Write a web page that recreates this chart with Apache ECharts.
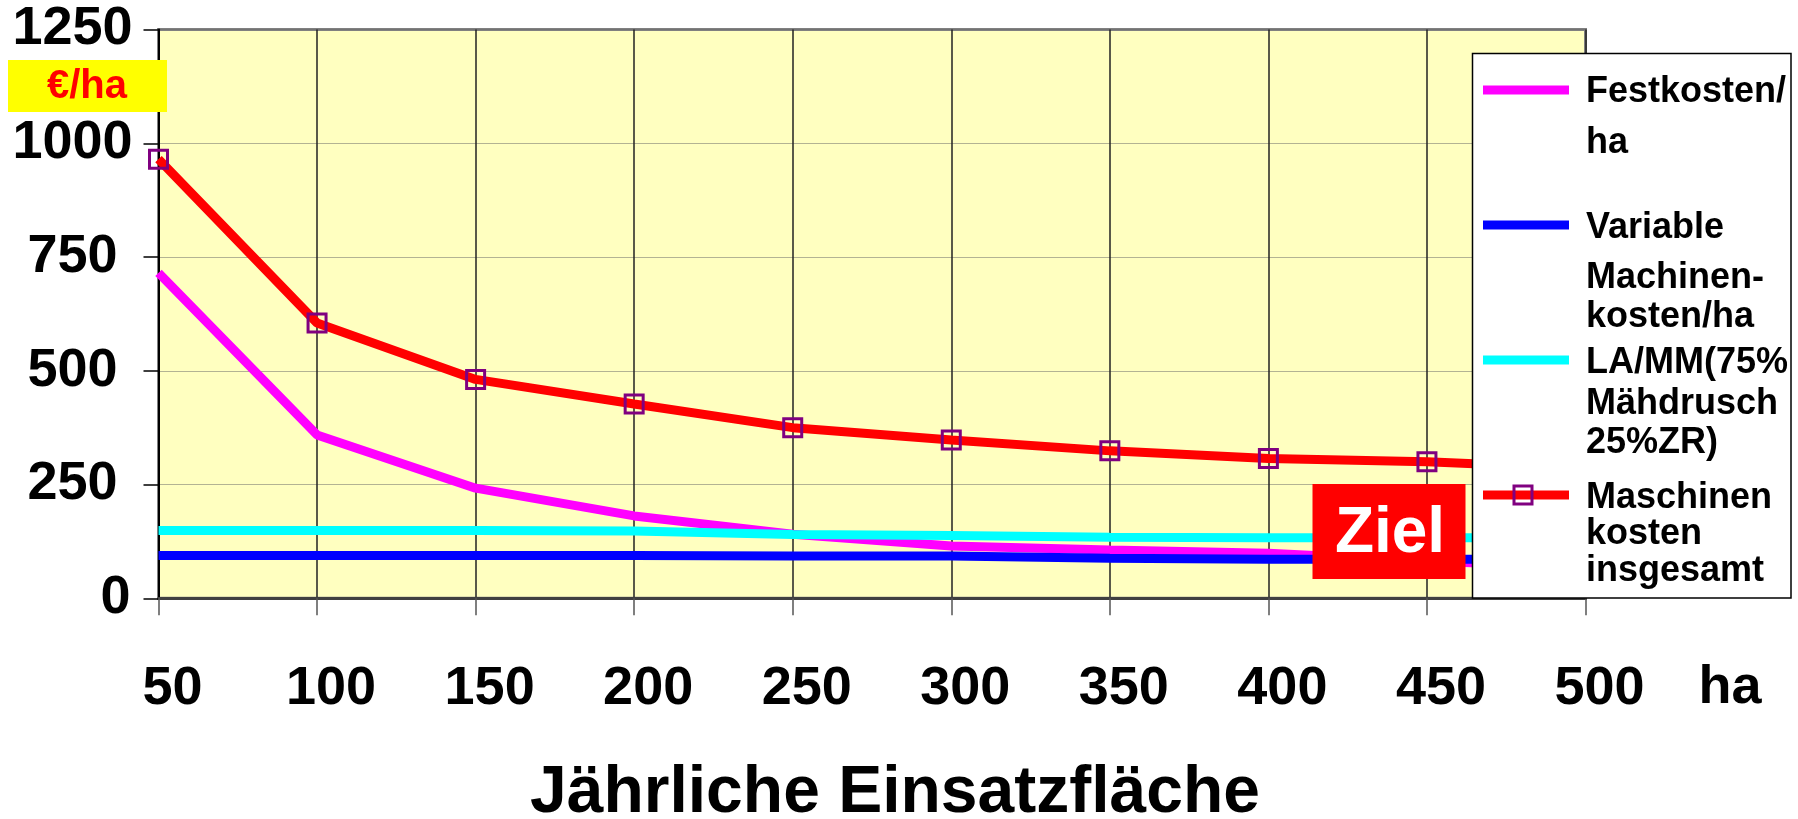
<!DOCTYPE html>
<html>
<head>
<meta charset="utf-8">
<title>Maschinenkosten</title>
<script src="https://cdn.jsdelivr.net/npm/echarts@6/dist/echarts.min.js"></script>
<style>
  html, body { margin: 0; padding: 0; background: #fff; }
  #chart { width: 1798px; height: 819px; }
</style>
</head>
<body>
<div id="chart"></div>
<script>
// Jährliche Einsatzfläche (ha)
const areas = ['50', '100', '150', '200', '250', '300', '350', '400', '450', '500']
// €/ha
const festkosten = [715, 359, 242, 181, 141, 115, 106, 99, 82, 68]
const variableKosten = [94, 94, 94, 94, 93, 93, 88, 86, 86, 86]
const laMm = [149, 149, 149, 148, 140, 138, 134, 133, 133, 133]
const gesamt = [965, 605, 481, 427, 375, 348, 324, 307, 300, 285]

const seriesNames = [
  'Festkosten/ha',
  'Variable Machinen-kosten/ha',
  'LA/MM(75% Mähdrusch 25%ZR)',
  'Maschinen kosten insgesamt'
]
const legendLines = [
  ['Festkosten/', 'ha'],
  ['Variable', 'Machinen-', 'kosten/ha'],
  ['LA/MM(75%', 'Mähdrusch', '25%ZR)'],
  ['Maschinen', 'kosten', 'insgesamt']
]
const colors = ['#ff00ff', '#0000ff', '#00ffff', '#ff0000']

const FONT = '"Liberation Sans", Arial, sans-serif'
const TOP = 100 // z for overlay boxes

const chart = echarts.init(document.getElementById('chart'))

function lineSeries(name, data, color, withMarker) {
  return {
    name: name,
    type: 'line',
    data: data,
    symbol: withMarker ? 'rect' : 'none',
    symbolSize: 18,
    showAllSymbol: true,
    lineStyle: { color: color, width: 9 },
    itemStyle: withMarker
      ? { color: 'rgba(0,0,0,0)', borderColor: '#800080', borderWidth: 3 }
      : { color: color },
    emphasis: { disabled: true },
    clip: false
  }
}

// legend box, drawn by hand (icons sit on first text line)
const iconY = [90, 225, 360, 495]
const textY = [[92, 143], [228, 278, 317], [363, 404, 443], [498, 534, 571]]
const legendChildren = [{
  type: 'rect',
  z: TOP,
  shape: { x: 1472.5, y: 53.5, width: 318.5, height: 544.5 },
  style: { fill: '#fff', stroke: '#000', lineWidth: 1.5 }
}]
legendLines.forEach(function(lines, i) {
  legendChildren.push({
    type: 'line',
    z: TOP + 1,
    shape: { x1: 1483, y1: iconY[i], x2: 1569, y2: iconY[i] },
    style: { stroke: colors[i], lineWidth: 9 }
  })
  lines.forEach(function(t, j) {
    legendChildren.push({
      type: 'text',
      z: TOP + 1,
      x: 1586,
      y: textY[i][j],
      style: {
        text: t,
        font: 'bold 36px ' + FONT,
        fill: '#000',
        verticalAlign: 'middle',
        align: 'left'
      }
    })
  })
})
legendChildren.push({
  type: 'rect',
  z: TOP + 2,
  shape: { x: 1514, y: 486, width: 18, height: 18 },
  style: { fill: 'rgba(0,0,0,0)', stroke: '#800080', lineWidth: 3 }
})

chart.setOption({
  animation: false,
  backgroundColor: '#fff',
  grid: {
    left: 158.5,
    right: 212.5,
    top: 29.5,
    bottom: 220.7,
    containLabel: false,
    outerBoundsMode: 'none',
    show: true,
    backgroundColor: '#ffffc0',
    borderColor: '#808080',
    borderWidth: 3
  },
  xAxis: {
    type: 'category',
    data: areas,
    boundaryGap: false,
    axisLine: { lineStyle: { color: '#404040', width: 3 } },
    axisTick: { show: true, length: 17, lineStyle: { color: '#555', width: 1.5 } },
    axisLabel: {
      color: '#000',
      fontSize: 54,
      fontWeight: 'bold',
      fontFamily: FONT,
      margin: 64,
      padding: [0, 0, 0, 28]
    },
    splitLine: { show: true, lineStyle: { color: '#222', width: 1.5 } },
    name: 'Jährliche Einsatzfläche',
    nameLocation: 'middle',
    nameGap: 162,
    nameTextStyle: {
      color: '#000',
      fontSize: 66,
      fontWeight: 'bold',
      fontFamily: FONT,
      padding: [0, 0, 0, 46]
    }
  },
  yAxis: {
    type: 'value',
    min: 0,
    max: 1250,
    interval: 250,
    axisLine: { show: true, lineStyle: { color: '#000', width: 2 } },
    axisTick: { show: true, length: 15, lineStyle: { color: '#000', width: 1.5 } },
    axisLabel: {
      color: '#000',
      fontSize: 54,
      fontWeight: 'bold',
      fontFamily: FONT,
      align: 'center',
      margin: 86,
      formatter: function(v) {
        return v === 0 ? '{z|0}' : String(v)
      },
      rich: {
        z: {
          color: '#000',
          fontSize: 54,
          fontWeight: 'bold',
          fontFamily: FONT,
          padding: [0, 0, 0, 86]
        }
      }
    },
    splitLine: { show: true, lineStyle: { color: '#666', type: 'dotted', width: 1 } }
  },
  series: [
    lineSeries(seriesNames[0], festkosten, colors[0], false),
    lineSeries(seriesNames[1], variableKosten, colors[1], false),
    lineSeries(seriesNames[2], laMm, colors[2], false),
    lineSeries(seriesNames[3], gesamt, colors[3], true)
  ],
  graphic: [
    {
      type: 'rect',
      z: TOP,
      shape: { x: 8, y: 60, width: 159, height: 52 },
      style: { fill: '#ffff00' }
    },
    {
      type: 'text',
      z: TOP + 1,
      x: 87,
      y: 87,
      style: {
        text: '€/ha',
        font: 'bold 40px ' + FONT,
        fill: '#ff0000',
        align: 'center',
        verticalAlign: 'middle'
      }
    },
    {
      type: 'text',
      z: TOP,
      x: 1730,
      y: 688,
      style: {
        text: 'ha',
        font: 'bold 54px ' + FONT,
        fill: '#000',
        align: 'center',
        verticalAlign: 'middle'
      }
    },
    {
      type: 'rect',
      z: TOP,
      shape: { x: 1312.5, y: 484, width: 153, height: 95 },
      style: { fill: '#ff0000' }
    },
    {
      type: 'text',
      z: TOP + 1,
      x: 1390,
      y: 534,
      style: {
        text: 'Ziel',
        font: 'bold 64px ' + FONT,
        fill: '#fff',
        align: 'center',
        verticalAlign: 'middle'
      }
    },
    {
      type: 'group',
      children: legendChildren
    }
  ]
})
</script>
</body>
</html>
